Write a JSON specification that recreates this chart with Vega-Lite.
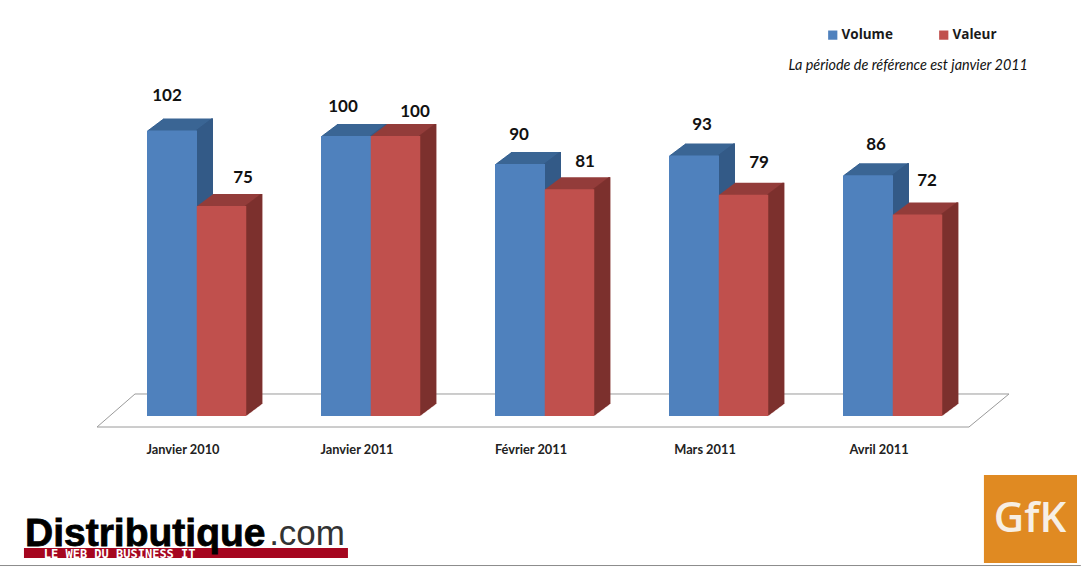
{"$schema":"https://vega.github.io/schema/vega-lite/v6.json","width":870,"height":367,"autosize":"none","padding":{"left":96,"top":60,"right":115,"bottom":141},"background":"white","view":{"stroke":null},
"data":{"values":[
{"cat":"Janvier 2010","s":"Volume","v":102},{"cat":"Janvier 2010","s":"Valeur","v":75},
{"cat":"Janvier 2011","s":"Volume","v":100},{"cat":"Janvier 2011","s":"Valeur","v":100},
{"cat":"Février 2011","s":"Volume","v":90},{"cat":"Février 2011","s":"Valeur","v":81},
{"cat":"Mars 2011","s":"Volume","v":93},{"cat":"Mars 2011","s":"Valeur","v":79},
{"cat":"Avril 2011","s":"Volume","v":86},{"cat":"Avril 2011","s":"Valeur","v":72}]},
"resolve":{"scale":{"x":"independent"}},
"layer":[
{"data":{"values":[{}]},"mark":{"type":"rule","color":"#9a9a9a","strokeWidth":1},"encoding":{"x":{"datum":0.224,"type":"quantitative","scale":{"domain":[0,5]},"axis":null},"x2":{"datum":5.247},"y":{"datum":7.86,"type":"quantitative","axis":null,"scale":{"domain":[-3.93,127.14],"nice":false,"zero":false}}}},
{"encoding":{"x":{"field":"cat","type":"nominal","sort":null,"scale":{"paddingInner":0,"paddingOuter":0},"axis":{"title":null,"domain":false,"ticks":false,"labelAngle":0,"labelFont":"Lato","labelFontWeight":"bold","labelFontSize":12.8,"labelColor":"#222222","labelPadding":16}},"y":{"field":"v","type":"quantitative","axis":null,"scale":{"domain":[-3.93,127.14],"nice":false,"zero":false}}},
"layer":[
{"transform":[{"filter":"datum.s=='Volume'"}],"encoding":{"y2":{"datum":0}},"layer":[
{"mark":{"type":"bar","size":50,"color":"#3a6594","xOffset":-10,"yOffset":-0.75,"y2Offset":-0.75}},
{"mark":{"type":"bar","size":50,"color":"#3a6594","xOffset":-9,"yOffset":-1.5,"y2Offset":-1.5}},
{"mark":{"type":"bar","size":50,"color":"#3a6594","xOffset":-8,"yOffset":-2.25,"y2Offset":-2.25}},
{"mark":{"type":"bar","size":50,"color":"#3a6594","xOffset":-7,"yOffset":-3,"y2Offset":-3}},
{"mark":{"type":"bar","size":50,"color":"#3a6594","xOffset":-6,"yOffset":-3.75,"y2Offset":-3.75}},
{"mark":{"type":"bar","size":50,"color":"#3a6594","xOffset":-5,"yOffset":-4.5,"y2Offset":-4.5}},
{"mark":{"type":"bar","size":50,"color":"#3a6594","xOffset":-4,"yOffset":-5.25,"y2Offset":-5.25}},
{"mark":{"type":"bar","size":50,"color":"#3a6594","xOffset":-3,"yOffset":-6,"y2Offset":-6}},
{"mark":{"type":"bar","size":50,"color":"#3a6594","xOffset":-2,"yOffset":-6.75,"y2Offset":-6.75}},
{"mark":{"type":"bar","size":50,"color":"#3a6594","xOffset":-1,"yOffset":-7.5,"y2Offset":-7.5}},
{"mark":{"type":"bar","size":50,"color":"#3a6594","xOffset":0,"yOffset":-8.25,"y2Offset":-8.25}},
{"mark":{"type":"bar","size":50,"color":"#3a6594","xOffset":1,"yOffset":-9,"y2Offset":-9}},
{"mark":{"type":"bar","size":50,"color":"#3a6594","xOffset":2,"yOffset":-9.75,"y2Offset":-9.75}},
{"mark":{"type":"bar","size":50,"color":"#3a6594","xOffset":3,"yOffset":-10.5,"y2Offset":-10.5}},
{"mark":{"type":"bar","size":50,"color":"#3a6594","xOffset":4,"yOffset":-11.25,"y2Offset":-11.25}},
{"mark":{"type":"bar","size":50,"color":"#3a6594","xOffset":5,"yOffset":-12,"y2Offset":-12}},
{"mark":{"type":"bar","size":2,"color":"#335a87","xOffset":14,"yOffset":-0.75,"y2Offset":-0.75}},
{"mark":{"type":"bar","size":2,"color":"#335a87","xOffset":15,"yOffset":-1.5,"y2Offset":-1.5}},
{"mark":{"type":"bar","size":2,"color":"#335a87","xOffset":16,"yOffset":-2.25,"y2Offset":-2.25}},
{"mark":{"type":"bar","size":2,"color":"#335a87","xOffset":17,"yOffset":-3,"y2Offset":-3}},
{"mark":{"type":"bar","size":2,"color":"#335a87","xOffset":18,"yOffset":-3.75,"y2Offset":-3.75}},
{"mark":{"type":"bar","size":2,"color":"#335a87","xOffset":19,"yOffset":-4.5,"y2Offset":-4.5}},
{"mark":{"type":"bar","size":2,"color":"#335a87","xOffset":20,"yOffset":-5.25,"y2Offset":-5.25}},
{"mark":{"type":"bar","size":2,"color":"#335a87","xOffset":21,"yOffset":-6,"y2Offset":-6}},
{"mark":{"type":"bar","size":2,"color":"#335a87","xOffset":22,"yOffset":-6.75,"y2Offset":-6.75}},
{"mark":{"type":"bar","size":2,"color":"#335a87","xOffset":23,"yOffset":-7.5,"y2Offset":-7.5}},
{"mark":{"type":"bar","size":2,"color":"#335a87","xOffset":24,"yOffset":-8.25,"y2Offset":-8.25}},
{"mark":{"type":"bar","size":2,"color":"#335a87","xOffset":25,"yOffset":-9,"y2Offset":-9}},
{"mark":{"type":"bar","size":2,"color":"#335a87","xOffset":26,"yOffset":-9.75,"y2Offset":-9.75}},
{"mark":{"type":"bar","size":2,"color":"#335a87","xOffset":27,"yOffset":-10.5,"y2Offset":-10.5}},
{"mark":{"type":"bar","size":2,"color":"#335a87","xOffset":28,"yOffset":-11.25,"y2Offset":-11.25}},
{"mark":{"type":"bar","size":2,"color":"#335a87","xOffset":29,"yOffset":-12,"y2Offset":-12}},
{"mark":{"type":"bar","size":50,"xOffset":-11},"encoding":{"color":{"field":"s","type":"nominal","scale":{"domain":["Volume","Valeur"],"range":["#4f81bd","#c0504d"]},"legend":{"title":null,"orient":"none","legendX":730,"legendY":-32,"direction":"horizontal","columns":2,"columnPadding":44,"symbolType":"square","symbolSize":85,"symbolStrokeWidth":0,"labelFont":"Open Sans","labelFontWeight":"bold","labelFontSize":13.5,"labelColor":"#1a1a1a","labelOffset":2}}}}
]},
{"transform":[{"filter":"datum.s=='Valeur'"}],"encoding":{"y2":{"datum":0}},"layer":[
{"mark":{"type":"bar","size":49.5,"color":"#933c3a","xOffset":39.5,"yOffset":-0.75,"y2Offset":-0.75}},
{"mark":{"type":"bar","size":49.5,"color":"#933c3a","xOffset":40.5,"yOffset":-1.5,"y2Offset":-1.5}},
{"mark":{"type":"bar","size":49.5,"color":"#933c3a","xOffset":41.5,"yOffset":-2.25,"y2Offset":-2.25}},
{"mark":{"type":"bar","size":49.5,"color":"#933c3a","xOffset":42.5,"yOffset":-3,"y2Offset":-3}},
{"mark":{"type":"bar","size":49.5,"color":"#933c3a","xOffset":43.5,"yOffset":-3.75,"y2Offset":-3.75}},
{"mark":{"type":"bar","size":49.5,"color":"#933c3a","xOffset":44.5,"yOffset":-4.5,"y2Offset":-4.5}},
{"mark":{"type":"bar","size":49.5,"color":"#933c3a","xOffset":45.5,"yOffset":-5.25,"y2Offset":-5.25}},
{"mark":{"type":"bar","size":49.5,"color":"#933c3a","xOffset":46.5,"yOffset":-6,"y2Offset":-6}},
{"mark":{"type":"bar","size":49.5,"color":"#933c3a","xOffset":47.5,"yOffset":-6.75,"y2Offset":-6.75}},
{"mark":{"type":"bar","size":49.5,"color":"#933c3a","xOffset":48.5,"yOffset":-7.5,"y2Offset":-7.5}},
{"mark":{"type":"bar","size":49.5,"color":"#933c3a","xOffset":49.5,"yOffset":-8.25,"y2Offset":-8.25}},
{"mark":{"type":"bar","size":49.5,"color":"#933c3a","xOffset":50.5,"yOffset":-9,"y2Offset":-9}},
{"mark":{"type":"bar","size":49.5,"color":"#933c3a","xOffset":51.5,"yOffset":-9.75,"y2Offset":-9.75}},
{"mark":{"type":"bar","size":49.5,"color":"#933c3a","xOffset":52.5,"yOffset":-10.5,"y2Offset":-10.5}},
{"mark":{"type":"bar","size":49.5,"color":"#933c3a","xOffset":53.5,"yOffset":-11.25,"y2Offset":-11.25}},
{"mark":{"type":"bar","size":49.5,"color":"#933c3a","xOffset":54.5,"yOffset":-12,"y2Offset":-12}},
{"mark":{"type":"bar","size":2,"color":"#7c302e","xOffset":63.25,"yOffset":-0.75,"y2Offset":-0.75}},
{"mark":{"type":"bar","size":2,"color":"#7c302e","xOffset":64.25,"yOffset":-1.5,"y2Offset":-1.5}},
{"mark":{"type":"bar","size":2,"color":"#7c302e","xOffset":65.25,"yOffset":-2.25,"y2Offset":-2.25}},
{"mark":{"type":"bar","size":2,"color":"#7c302e","xOffset":66.25,"yOffset":-3,"y2Offset":-3}},
{"mark":{"type":"bar","size":2,"color":"#7c302e","xOffset":67.25,"yOffset":-3.75,"y2Offset":-3.75}},
{"mark":{"type":"bar","size":2,"color":"#7c302e","xOffset":68.25,"yOffset":-4.5,"y2Offset":-4.5}},
{"mark":{"type":"bar","size":2,"color":"#7c302e","xOffset":69.25,"yOffset":-5.25,"y2Offset":-5.25}},
{"mark":{"type":"bar","size":2,"color":"#7c302e","xOffset":70.25,"yOffset":-6,"y2Offset":-6}},
{"mark":{"type":"bar","size":2,"color":"#7c302e","xOffset":71.25,"yOffset":-6.75,"y2Offset":-6.75}},
{"mark":{"type":"bar","size":2,"color":"#7c302e","xOffset":72.25,"yOffset":-7.5,"y2Offset":-7.5}},
{"mark":{"type":"bar","size":2,"color":"#7c302e","xOffset":73.25,"yOffset":-8.25,"y2Offset":-8.25}},
{"mark":{"type":"bar","size":2,"color":"#7c302e","xOffset":74.25,"yOffset":-9,"y2Offset":-9}},
{"mark":{"type":"bar","size":2,"color":"#7c302e","xOffset":75.25,"yOffset":-9.75,"y2Offset":-9.75}},
{"mark":{"type":"bar","size":2,"color":"#7c302e","xOffset":76.25,"yOffset":-10.5,"y2Offset":-10.5}},
{"mark":{"type":"bar","size":2,"color":"#7c302e","xOffset":77.25,"yOffset":-11.25,"y2Offset":-11.25}},
{"mark":{"type":"bar","size":2,"color":"#7c302e","xOffset":78.25,"yOffset":-12,"y2Offset":-12}},
{"mark":{"type":"bar","size":49.5,"xOffset":38.5},"encoding":{"color":{"field":"s","type":"nominal","scale":{"domain":["Volume","Valeur"],"range":["#4f81bd","#c0504d"]},"legend":{"title":null,"orient":"none","legendX":730,"legendY":-32,"direction":"horizontal","columns":2,"columnPadding":44,"symbolType":"square","symbolSize":85,"symbolStrokeWidth":0,"labelFont":"Open Sans","labelFontWeight":"bold","labelFontSize":13.5,"labelColor":"#1a1a1a","labelOffset":2}}}}
]},
{"encoding":{"text":{"field":"v","type":"quantitative"}},"layer":[
{"transform":[{"filter":"datum.s=='Volume'&&datum.v==102"}],"mark":{"type":"text","font":"Lato","fontWeight":"bold","fontSize":17,"color":"#111111","dx":-16,"dy":-34}},
{"transform":[{"filter":"datum.s=='Volume'&&datum.v==100"}],"mark":{"type":"text","font":"Lato","fontWeight":"bold","fontSize":17,"color":"#111111","dx":-14,"dy":-29}},
{"transform":[{"filter":"datum.s=='Volume'&&datum.v==90"}],"mark":{"type":"text","font":"Lato","fontWeight":"bold","fontSize":17,"color":"#111111","dx":-12,"dy":-29}},
{"transform":[{"filter":"datum.s=='Volume'&&datum.v==93"}],"mark":{"type":"text","font":"Lato","fontWeight":"bold","fontSize":17,"color":"#111111","dx":-3,"dy":-31}},
{"transform":[{"filter":"datum.s=='Volume'&&datum.v==86"}],"mark":{"type":"text","font":"Lato","fontWeight":"bold","fontSize":17,"color":"#111111","dx":-3,"dy":-30}},
{"transform":[{"filter":"datum.s=='Valeur'&&datum.v==75"}],"mark":{"type":"text","font":"Lato","fontWeight":"bold","fontSize":17,"color":"#111111","dx":60,"dy":-28}},
{"transform":[{"filter":"datum.s=='Valeur'&&datum.v==100"}],"mark":{"type":"text","font":"Lato","fontWeight":"bold","fontSize":17,"color":"#111111","dx":58,"dy":-24}},
{"transform":[{"filter":"datum.s=='Valeur'&&datum.v==81"}],"mark":{"type":"text","font":"Lato","fontWeight":"bold","fontSize":17,"color":"#111111","dx":54,"dy":-27}},
{"transform":[{"filter":"datum.s=='Valeur'&&datum.v==79"}],"mark":{"type":"text","font":"Lato","fontWeight":"bold","fontSize":17,"color":"#111111","dx":54,"dy":-32}},
{"transform":[{"filter":"datum.s=='Valeur'&&datum.v==72"}],"mark":{"type":"text","font":"Lato","fontWeight":"bold","fontSize":17,"color":"#111111","dx":48,"dy":-33}}
]}
]},
{"data":{"values":[{}]},"layer":[
{"mark":{"type":"rule","color":"#9a9a9a","strokeWidth":1},"encoding":{"x":{"datum":0.006,"type":"quantitative","scale":{"domain":[0,5]},"axis":null},"x2":{"datum":5.017},"y":{"datum":-3.93,"type":"quantitative"}}},
{"mark":{"type":"rule","color":"#9a9a9a","strokeWidth":1},"encoding":{"x":{"datum":0.006,"type":"quantitative","scale":{"domain":[0,5]},"axis":null},"x2":{"datum":0.224},"y":{"datum":-3.93,"type":"quantitative"},"y2":{"datum":7.86}}},
{"mark":{"type":"rule","color":"#9a9a9a","strokeWidth":1},"encoding":{"x":{"datum":5.017,"type":"quantitative","scale":{"domain":[0,5]},"axis":null},"x2":{"datum":5.247},"y":{"datum":-3.93,"type":"quantitative"},"y2":{"datum":7.86}}},
{"mark":{"type":"rule","color":"#8c8c8c","strokeWidth":1},"encoding":{"x":{"datum":-0.552,"type":"quantitative","scale":{"domain":[0,5]},"axis":null},"x2":{"datum":5.66},"y":{"datum":-53.4,"type":"quantitative"}}},
{"mark":{"type":"text","align":"right","baseline":"middle","font":"Lato","fontStyle":"italic","fontSize":14.4,"color":"#111111","text":"La période de référence est janvier 2011"},"encoding":{"x":{"datum":5.356,"type":"quantitative","scale":{"domain":[0,5]},"axis":null},"y":{"datum":125,"type":"quantitative"}}},
{"mark":{"type":"rect","color":"#a5061f"},"encoding":{"x":{"datum":-0.414,"type":"quantitative","scale":{"domain":[0,5]},"axis":null},"x2":{"datum":1.448},"y":{"datum":-47.14,"type":"quantitative"},"y2":{"datum":-50.71}}},
{"mark":{"type":"text","align":"left","baseline":"alphabetic","font":"Liberation Sans","fontWeight":"bold","fontSize":39,"color":"#000000","stroke":"#000000","strokeWidth":0.8,"text":"Distributique"},"encoding":{"x":{"datum":-0.408,"type":"quantitative","scale":{"domain":[0,5]},"axis":null},"y":{"datum":-46.5,"type":"quantitative"}}},
{"mark":{"type":"text","align":"left","baseline":"alphabetic","font":"Liberation Sans","fontSize":35,"color":"#333333","text":".com"},"encoding":{"x":{"datum":0.995,"type":"quantitative","scale":{"domain":[0,5]},"axis":null},"y":{"datum":-46.1,"type":"quantitative"}}},
{"mark":{"type":"text","align":"left","baseline":"middle","font":"DejaVu Sans Mono","fontWeight":"bold","fontSize":12,"color":"#ffffff","text":"LE WEB DU BUSINESS IT"},"encoding":{"x":{"datum":-0.3,"type":"quantitative","scale":{"domain":[0,5]},"axis":null},"y":{"datum":-49.2,"type":"quantitative"}}},
{"mark":{"type":"rect","color":"#e08a22"},"encoding":{"x":{"datum":5.103,"type":"quantitative","scale":{"domain":[0,5]},"axis":null},"x2":{"datum":5.638},"y":{"datum":-21.07,"type":"quantitative"},"y2":{"datum":-52.5}}},
{"mark":{"type":"text","align":"center","baseline":"middle","font":"Open Sans","fontWeight":600,"fontSize":42,"color":"#f7efe4","text":"GfK"},"encoding":{"x":{"datum":5.368,"type":"quantitative","scale":{"domain":[0,5]},"axis":null},"y":{"datum":-36.8,"type":"quantitative"}}}
]}
]}
